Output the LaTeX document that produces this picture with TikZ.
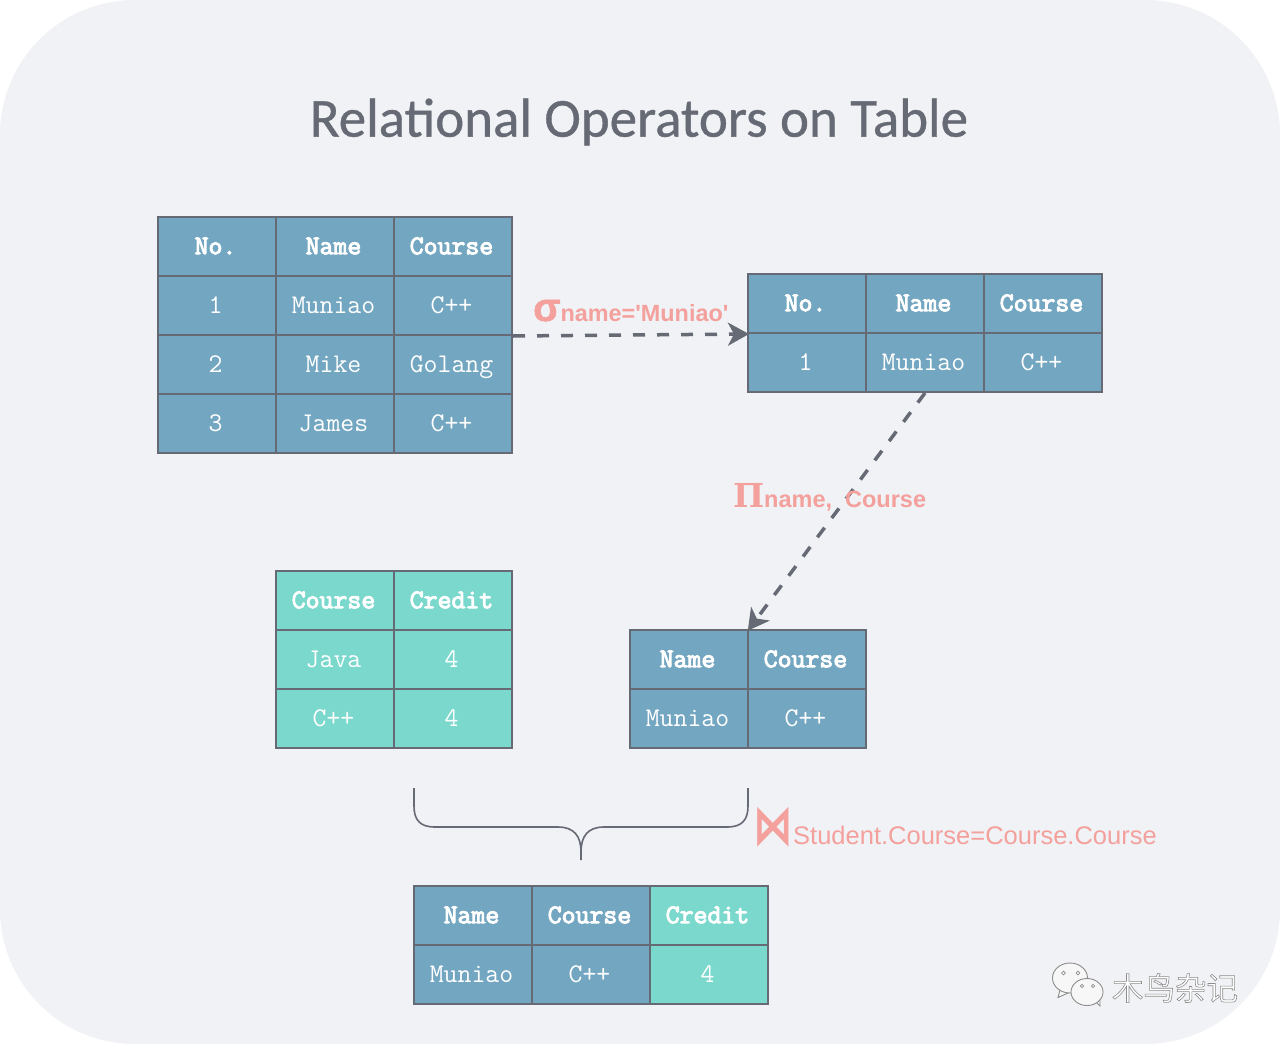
\documentclass[tikz,border=0pt]{standalone}
\usepackage{fontspec}
\usetikzlibrary{arrows.meta}
\newfontfamily\labelfont{Liberation Sans}
\newfontfamily\headingfont[FakeBold=0.7]{Carlito}
\newfontfamily\sigmafont[FakeBold=1.5]{Liberation Sans Bold}
\newfontfamily\glyphsans{DejaVu Sans}
\newfontfamily\glyphserif{DejaVu Serif}
\newfontfamily\cjkfont{Noto Sans CJK SC}
\definecolor{pagebg}{HTML}{F0F2F5}
\definecolor{inkgrey}{HTML}{666A75}
\definecolor{cellblue}{HTML}{73A6C1}
\definecolor{cellteal}{HTML}{7BD8CC}
\definecolor{labelpink}{HTML}{F4A09C}
\tikzset{
  tcell/.style={draw=inkgrey,line width=2pt,minimum width=118pt,minimum height=59pt,
    inner sep=0pt,text=white,text height=15.4pt,text depth=0pt,
    font=\ttfamily\fontsize{27}{30}\selectfont,
    execute at end node={\special{pdf:code 0 Tr}\kern3pt}},
  bluecell/.style={tcell,fill=cellblue},
  tealcell/.style={tcell,fill=cellteal},
  % heavier header lettering: glyphs are filled and stroked in white
  headcell/.style={execute at begin node={\special{pdf:code 2 Tr 1 w 1 G}}},
  flow/.style={draw=inkgrey,line width=3.5pt,dash pattern=on 12pt off 12pt,shorten >=-2pt,
    -{Stealth[length=21pt,width=23pt,inset=6pt]}},
  opname/.style={inner sep=0pt,anchor=base west,text=labelpink},
  bubble/.style={draw=black!45,line width=0.9pt,fill=white!97!black},
  bubbledot/.style={draw=black!45,line width=0.7pt,fill=white},
}
\begin{document}
\begin{tikzpicture}[x=1pt,y=-1pt]
\useasboundingbox (0,0) rectangle (1280,1044);
\fill[white] (0,0) rectangle (1280,1044);
\fill[pagebg,rounded corners=135pt] (0,0) rectangle (1280,1044);

\node[inner sep=0pt,text=inkgrey,font=\headingfont\fontsize{55}{60}\selectfont] (heading) at (639,122) {Relational Operators on Table};

% Student table
\node[bluecell,headcell] (sA) at (217,246.5) {No.};
\node[bluecell,headcell] (sB) at (335,246.5) {Name};
\node[bluecell,headcell] (sC) at (453,246.5) {Course};
\node[bluecell] (s1A) at (217,305.5) {1};
\node[bluecell] (s1B) at (335,305.5) {Muniao};
\node[bluecell] (s1C) at (453,305.5) {C++};
\node[bluecell] (s2A) at (217,364.5) {2};
\node[bluecell] (s2B) at (335,364.5) {Mike};
\node[bluecell] (s2C) at (453,364.5) {Golang};
\node[bluecell] (s3A) at (217,423.5) {3};
\node[bluecell] (s3B) at (335,423.5) {James};
\node[bluecell] (s3C) at (453,423.5) {C++};

% Selection result
\node[bluecell,headcell] (pA) at (807,303.5) {No.};
\node[bluecell,headcell] (pB) at (925,303.5) {Name};
\node[bluecell,headcell] (pC) at (1043,303.5) {Course};
\node[bluecell] (p1A) at (807,362.5) {1};
\node[bluecell] (p1B) at (925,362.5) {Muniao};
\node[bluecell] (p1C) at (1043,362.5) {C++};

% Course table
\node[tealcell,headcell] (cA) at (335,600.5) {Course};
\node[tealcell,headcell] (cB) at (453,600.5) {Credit};
\node[tealcell] (c1A) at (335,659.5) {Java};
\node[tealcell] (c1B) at (453,659.5) {4};
\node[tealcell] (c2A) at (335,718.5) {C++};
\node[tealcell] (c2B) at (453,718.5) {4};

% Projection result
\node[bluecell,headcell] (qA) at (689,659.5) {Name};
\node[bluecell,headcell] (qB) at (807,659.5) {Course};
\node[bluecell] (q1A) at (689,718.5) {Muniao};
\node[bluecell] (q1B) at (807,718.5) {C++};

% Join result
\node[bluecell,headcell] (jA) at (473,915.5) {Name};
\node[bluecell,headcell] (jB) at (591,915.5) {Course};
\node[tealcell,headcell] (jC) at (709,915.5) {Credit};
\node[bluecell] (j1A) at (473,974.5) {Muniao};
\node[bluecell] (j1B) at (591,974.5) {C++};
\node[tealcell] (j1C) at (709,974.5) {4};

% Operator arrows
\draw[flow] (s1C.south east) -- (pA.south west);
\draw[flow] (p1B.south) -- (qA.north east);

% Operator labels
\node[opname,font=\labelfont\bfseries\fontsize{23.4}{26}\selectfont] (sel) at (533,321)
  {{\sigmafont\fontsize{40}{40}\selectfont σ}name='Muniao'};
\node[opname,font=\glyphserif\bfseries\fontsize{33}{36}\selectfont] (proj) at (733,507) {Π};
\node[opname,font=\labelfont\bfseries\fontsize{23.5}{26}\selectfont] (projattr) at (764,507) {name,\kern6.5pt\ Course};
\node[inner sep=0pt,text=labelpink,font=\glyphsans\bfseries\fontsize{46}{50}\selectfont] (bow) at (773,827) {\scalebox{.86}[1.2]{⋈}};
\node[opname,font=\labelfont\fontsize{25.5}{28}\selectfont] (joincond) at (793,844) {Student.Course=Course.Course};

% Brace gathering the two join inputs
\coordinate (braceL) at (414,788);
\coordinate (braceR) at (748,788);
\coordinate (braceM) at (581,860);
\draw[inkgrey,line width=1.6pt] (braceL) -- (414,806) .. controls (414,820) and (420,827) .. (435,827)
  -- (558,827) .. controls (574,827) and (581,836) .. (581,852) -- (braceM);
\draw[inkgrey,line width=1.6pt] (braceR) -- (748,806) .. controls (748,820) and (742,827) .. (727,827)
  -- (604,827) .. controls (588,827) and (581,836) .. (581,852);

% Chat mark and signature
\draw[bubble] (1060,990) -- (1058,997.5) -- (1068,993) -- cycle;
\draw[bubble] (1070,978) ellipse (17.5pt and 15pt);
\draw[bubbledot] (1063.5,973) circle (1.8pt);
\draw[bubbledot] (1078,973) circle (1.8pt);
\draw[bubble] (1095,1001) -- (1100,1006) -- (1100,998) -- cycle;
\draw[bubble] (1087,992) ellipse (16pt and 13.5pt);
\draw[bubbledot] (1082,986) circle (1.6pt);
\draw[bubbledot] (1093,986) circle (1.6pt);
\node[inner sep=0pt,text=white,font=\cjkfont\fontsize{31.5}{34}\selectfont] (sign) at (1175,988)
  {\special{pdf:code 2 Tr 0.6 w 0.55 G}木鸟杂记\special{pdf:code 0 Tr}};
\end{tikzpicture}
\end{document}
